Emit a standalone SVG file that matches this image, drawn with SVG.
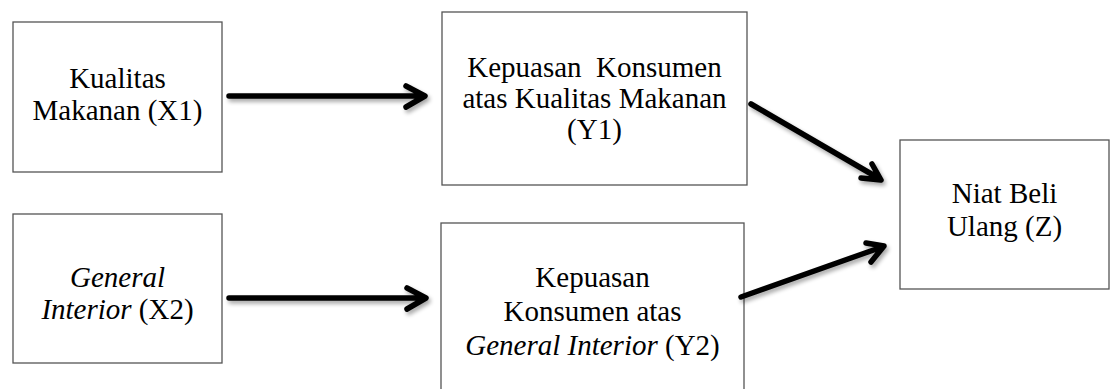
<svg xmlns="http://www.w3.org/2000/svg" width="1114" height="389" viewBox="0 0 1114 389">
<defs>
<style>
.box{fill:#fff;stroke:#555;stroke-width:1.3}
.t{font-size:29px;fill:#000;text-anchor:middle}
.i{font-style:italic}
.c{fill:none;stroke:#000;stroke-width:5.5;stroke-linecap:round;stroke-linejoin:round}
</style>
<filter id="sh" x="-20%" y="-20%" width="140%" height="140%">
<feGaussianBlur in="SourceAlpha" stdDeviation="2"/>
<feOffset dx="2" dy="3" result="b"/>
<feComponentTransfer><feFuncA type="linear" slope="0.35"/></feComponentTransfer>
<feMerge><feMergeNode/><feMergeNode in="SourceGraphic"/></feMerge>
</filter>
</defs>
<rect width="1114" height="389" fill="#fff"/>
<g font-family="'Liberation Serif', 'Times New Roman', 'DejaVu Serif', serif">
<g id="x1">
<rect class="box" x="13" y="22" width="209" height="150"/>
<text class="t" x="117.5" y="88">Kualitas</text>
<text class="t" x="117.5" y="120">Makanan (X1)</text>
</g>
<g id="x2">
<rect class="box" x="13" y="214" width="209" height="149"/>
<text class="t i" x="117.5" y="287">General</text>
<text class="t" x="117.5" y="319"><tspan class="i">Interior</tspan> (X2)</text>
</g>
<g id="y1">
<rect class="box" x="442" y="12" width="305" height="173"/>
<text class="t" x="594.5" y="77" xml:space="preserve">Kepuasan  Konsumen</text>
<text class="t" x="594.5" y="108">atas Kualitas Makanan</text>
<text class="t" x="594.5" y="139">(Y1)</text>
</g>
<g id="y2">
<rect class="box" x="441" y="223" width="303" height="180"/>
<text class="t" x="592.5" y="287">Kepuasan</text>
<text class="t" x="592.5" y="321">Konsumen atas</text>
<text class="t" x="592.5" y="355"><tspan class="i">General Interior</tspan> (Y2)</text>
</g>
<g id="z">
<rect class="box" x="900" y="140" width="209" height="149"/>
<text class="t" x="1004.5" y="203">Niat Beli</text>
<text class="t" x="1004.5" y="236">Ulang (Z)</text>
</g>
</g>
<g id="connectors" filter="url(#sh)">
<path class="c" d="M229 96 H423 M406 86 L425 96 L406 107"/>
<path class="c" d="M229 298 H424 M407 288 L426 298 L407 309"/>
<path class="c" d="M751 104 L880 179 M872 164 L881 180 L861 178"/>
<path class="c" d="M741 297 L882 247 M866 243 L884 246 L871 262"/>
</g>
</svg>
